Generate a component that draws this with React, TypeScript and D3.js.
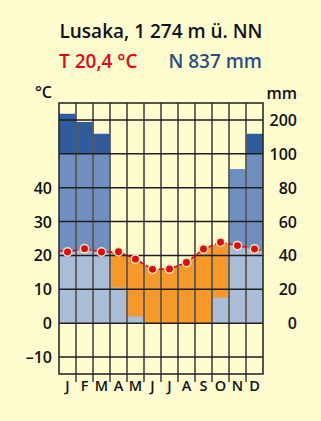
import React, { useRef, useEffect } from 'react'
import * as d3 from 'd3'

const months = ['J', 'F', 'M', 'A', 'M', 'J', 'J', 'A', 'S', 'O', 'N', 'D']
const temperature = [21.0, 22.0, 21.0, 21.1, 18.9, 15.9, 16.0, 17.9, 21.9, 23.9, 22.9, 21.9]
const precipitation = [218, 194, 159, 21, 4, 0, 0, 0, 0, 15, 91, 159]
const tempTicks = [-10, 0, 10, 20, 30, 40]
const mmTicks = [0, 20, 40, 60, 80, 100, 200]

const W = 321
const H = 421
const BG = '#fffdd0'
const RED = '#e30613'
const ORANGE = '#f7982a'
const LIGHT = '#aabdd8'
const MID = '#6e8fc0'
const DARK = '#2f5c9d'
const FONT = '"Open Sans", "Noto Sans", sans-serif'

// mm -> temperature units (1:2 up to 100 mm, 1:20 above)
const mmToT = (mm: number) => (mm <= 100 ? mm / 2 : 50 + (mm - 100) / 10)

function App() {
  const svgRef = useRef<SVGSVGElement>(null)

  useEffect(() => {
    const svg = d3.select(svgRef.current)
    svg.selectAll('*').remove()

    const left = 59
    const right = 263
    const top = 103
    const bottom = 374

    const x = d3.scaleBand<number>().domain(d3.range(12)).range([left, right]).padding(0)
    const y = d3.scaleLinear().domain([-15, 65]).range([bottom, top])
    const cx = (i: number) => (x(i) as number) + x.bandwidth() / 2

    svg.append('rect').attr('width', W).attr('height', H).attr('fill', BG)

    // temperature curve, wrapped at the edges
    const edge = (temperature[11] + temperature[0]) / 2
    const pts: [number, number][] = [
      [left, edge],
      ...temperature.map((t, i) => [cx(i), t] as [number, number]),
      [right, edge],
    ]

    const defs = svg.append('defs')
    defs
      .append('clipPath')
      .attr('id', 'aboveCurve')
      .append('path')
      .attr(
        'd',
        d3
          .area<[number, number]>()
          .x((d) => d[0])
          .y0(top)
          .y1((d) => y(d[1]))(pts)
      )

    // arid area under the curve
    svg
      .append('path')
      .attr(
        'd',
        d3
          .area<[number, number]>()
          .x((d) => d[0])
          .y0(y(0))
          .y1((d) => y(d[1]))(pts)
      )
      .attr('fill', ORANGE)

    // precipitation below the curve
    svg
      .selectAll('.light')
      .data(precipitation)
      .join('rect')
      .attr('x', (d, i) => x(i) as number)
      .attr('width', x.bandwidth())
      .attr('y', (d) => y(mmToT(d)))
      .attr('height', (d) => y(0) - y(mmToT(d)))
      .attr('fill', LIGHT)

    // humid part above the curve
    svg
      .append('g')
      .attr('clip-path', 'url(#aboveCurve)')
      .selectAll('rect')
      .data(precipitation)
      .join('rect')
      .attr('x', (d, i) => x(i) as number)
      .attr('width', x.bandwidth())
      .attr('y', (d) => y(mmToT(Math.min(d, 100))))
      .attr('height', (d) => y(0) - y(mmToT(Math.min(d, 100))))
      .attr('fill', MID)

    // above 100 mm
    svg
      .append('g')
      .selectAll('rect')
      .data(precipitation)
      .join('rect')
      .attr('x', (d, i) => x(i) as number)
      .attr('width', x.bandwidth())
      .attr('y', (d) => (d > 100 ? y(mmToT(d)) : 0))
      .attr('height', (d) => (d > 100 ? y(50) - y(mmToT(d)) : 0))
      .attr('fill', DARK)

    // grid
    const grid = svg.append('g')
    d3.range(1, 12).forEach((i) => {
      grid
        .append('line')
        .attr('x1', x(i) as number)
        .attr('x2', x(i) as number)
        .attr('y1', top)
        .attr('y2', bottom + 8)
        .attr('stroke', '#5a5a52')
        .attr('stroke-width', 1.8)
    })
    ;[...tempTicks, 50, 60].forEach((t) => {
      grid
        .append('line')
        .attr('x1', left)
        .attr('x2', right)
        .attr('y1', y(t))
        .attr('y2', y(t))
        .attr('stroke', '#1e1e1e')
        .attr('stroke-width', 1.4)
    })
    grid
      .append('rect')
      .attr('x', left)
      .attr('y', top)
      .attr('width', right - left)
      .attr('height', bottom - top)
      .attr('fill', 'none')
      .attr('stroke', '#2a2a2a')
      .attr('stroke-width', 1.6)

    // temperature line and points
    svg
      .append('path')
      .attr(
        'd',
        d3
          .line<[number, number]>()
          .x((d) => d[0])
          .y((d) => y(d[1]))(pts)
      )
      .attr('fill', 'none')
      .attr('stroke', RED)
      .attr('stroke-width', 1.6)
      .attr('stroke-dasharray', '5 2')

    svg
      .selectAll('.dot')
      .data(temperature)
      .join('circle')
      .attr('cx', (d, i) => cx(i))
      .attr('cy', (d) => y(d))
      .attr('r', 4.2)
      .attr('fill', RED)
      .attr('stroke', '#f6e3b4')
      .attr('stroke-width', 1.5)

    const labels = svg.append('g').attr('font-family', FONT).attr('font-weight', 600).attr('fill', '#111')

    labels
      .selectAll('.tl')
      .data(tempTicks)
      .join('text')
      .attr('x', 52)
      .attr('y', (d) => y(d) + 6)
      .attr('text-anchor', 'end')
      .attr('font-size', 16)
      .text((d) => (d < 0 ? '\u2013' + Math.abs(d) : String(d)))

    labels
      .selectAll('.ml')
      .data(mmTicks)
      .join('text')
      .attr('x', 297)
      .attr('y', (d) => y(mmToT(d)) + 6)
      .attr('text-anchor', 'end')
      .attr('font-size', 16)
      .text((d) => String(d))

    labels
      .selectAll('.mo')
      .data(months)
      .join('text')
      .attr('x', (d, i) => cx(i))
      .attr('y', 391)
      .attr('text-anchor', 'middle')
      .attr('font-size', 14.5)
      .text((d) => d)

    labels
      .append('text')
      .attr('x', 35)
      .attr('y', 98)
      .attr('font-size', 16)
      .text('°C')
    labels
      .append('text')
      .attr('x', 297)
      .attr('y', 99)
      .attr('text-anchor', 'end')
      .attr('font-size', 16)
      .text('mm')

    const head = svg.append('g').attr('font-family', FONT).attr('font-weight', 600)
    head
      .append('text')
      .attr('x', 161)
      .attr('y', 38)
      .attr('text-anchor', 'middle')
      .attr('font-size', 19)
      .attr('fill', '#111')
      .text('Lusaka, 1 274 m ü. NN')
    head
      .append('text')
      .attr('x', 59)
      .attr('y', 68)
      .attr('font-size', 19)
      .attr('fill', RED)
      .text('T 20,4 °C')
    head
      .append('text')
      .attr('x', 262)
      .attr('y', 68)
      .attr('text-anchor', 'end')
      .attr('font-size', 19)
      .attr('fill', '#2d4f80')
      .text('N 837 mm')
  }, [])

  return (
    <svg
      ref={svgRef}
      width={W}
      height={H}
      style={{ position: 'absolute', left: 0, top: 0, display: 'block' }}
    />
  )
}

export default App
